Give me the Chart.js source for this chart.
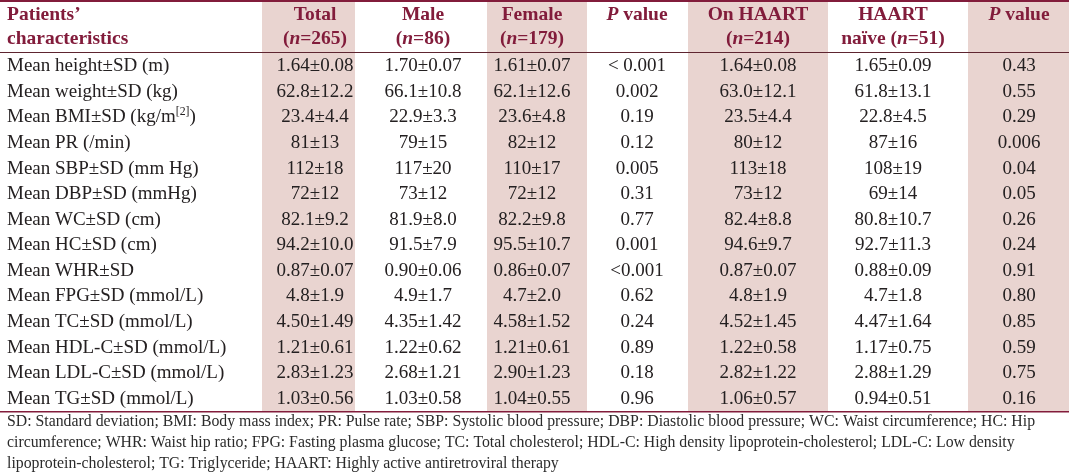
<!DOCTYPE html>
<html>
<head>
<meta charset="utf-8">
<script src="https://cdn.jsdelivr.net/npm/chart.js@4.4.1/dist/chart.umd.min.js"></script>
<style>
  html, body { margin: 0; padding: 0; background: #fff; }
  #wrap { width: 1069px; height: 475px; }
</style>
</head>
<body>
<div id="wrap"><canvas id="table1"></canvas></div>
<script>
// row labels (^...^ = superscript)
const rowLabels = [
    'Mean height±SD (m)', 'Mean weight±SD (kg)', 'Mean BMI±SD (kg/m^[2]^)', 'Mean PR (/min)',
    'Mean SBP±SD (mm Hg)', 'Mean DBP±SD (mmHg)', 'Mean WC±SD (cm)', 'Mean HC±SD (cm)',
    'Mean WHR±SD', 'Mean FPG±SD (mmol/L)', 'Mean TC±SD (mmol/L)', 'Mean HDL-C±SD (mmol/L)',
    'Mean LDL-C±SD (mmol/L)', 'Mean TG±SD (mmol/L)'
];
const total = ['1.64±0.08', '62.8±12.2', '23.4±4.4', '81±13', '112±18', '72±12', '82.1±9.2',
    '94.2±10.0', '0.87±0.07', '4.8±1.9', '4.50±1.49', '1.21±0.61', '2.83±1.23', '1.03±0.56'];
const male = ['1.70±0.07', '66.1±10.8', '22.9±3.3', '79±15', '117±20', '73±12', '81.9±8.0',
    '91.5±7.9', '0.90±0.06', '4.9±1.7', '4.35±1.42', '1.22±0.62', '2.68±1.21', '1.03±0.58'];
const female = ['1.61±0.07', '62.1±12.6', '23.6±4.8', '82±12', '110±17', '72±12', '82.2±9.8',
    '95.5±10.7', '0.86±0.07', '4.7±2.0', '4.58±1.52', '1.21±0.61', '2.90±1.23', '1.04±0.55'];
const pSex = ['< 0.001', '0.002', '0.19', '0.12', '0.005', '0.31', '0.77',
    '0.001', '<0.001', '0.62', '0.24', '0.89', '0.18', '0.96'];
const onHaart = ['1.64±0.08', '63.0±12.1', '23.5±4.4', '80±12', '113±18', '73±12', '82.4±8.8',
    '94.6±9.7', '0.87±0.07', '4.8±1.9', '4.52±1.45', '1.22±0.58', '2.82±1.22', '1.06±0.57'];
const naive = ['1.65±0.09', '61.8±13.1', '22.8±4.5', '87±16', '108±19', '69±14', '80.8±10.7',
    '92.7±11.3', '0.88±0.09', '4.7±1.8', '4.47±1.64', '1.17±0.75', '2.88±1.29', '0.94±0.51'];
const pHaart = ['0.43', '0.55', '0.29', '0.006', '0.04', '0.05', '0.26',
    '0.24', '0.91', '0.80', '0.85', '0.59', '0.75', '0.16'];

// column headers (*...* = italic)
const headCorner = ['Patients’', 'characteristics'];
const headLine1 = ['Total', 'Male', 'Female', '*P* value', 'On HAART', 'HAART', '*P* value'];
const headLine2 = ['(*n*=265)', '(*n*=86)', '(*n*=179)', '', '(*n*=214)', 'naïve (*n*=51)', ''];

const footnote = [
    'SD: Standard deviation; BMI: Body mass index; PR: Pulse rate; SBP: Systolic blood pressure; DBP: Diastolic blood pressure; WC: Waist circumference; HC: Hip',
    'circumference; WHR: Waist hip ratio; FPG: Fasting plasma glucose; TC: Total cholesterol; HDL-C: High density lipoprotein-cholesterol; LDL-C: Low density',
    'lipoprotein-cholesterol; TG: Triglyceride; HAART: Highly active antiretroviral therapy'
];

const valueCols = [total, male, female, pSex, onHaart, naive, pHaart];

// layout
const colEdges = [262, 355, 487, 587, 688, 828, 968, 1069];
const colCenters = [315, 423, 532, 637, 758, 893, 1019];
const shadedCols = [0, 2, 4, 6];
const labelWidth = 255;
const serif = '"Liberation Serif", "Times New Roman", serif';
const shade = '#e9d4d0';
const maroon = '#821c3b';
const ink = '#242021';

function parseRich(text) {
    let segs = [];
    let italic = false, sup = false, cur = '';
    for (const ch of text) {
        if (ch === '*' || ch === '^') {
            if (cur) segs.push({t: cur, italic: italic, sup: sup});
            cur = '';
            if (ch === '*') italic = !italic; else sup = !sup;
        } else {
            cur += ch;
        }
    }
    if (cur) segs.push({t: cur, italic: italic, sup: sup});
    return segs;
}

function drawRich(ctx, text, x, y, align, size, bold) {
    let segs = parseRich(text);
    let fontFor = s => (s.italic ? 'italic ' : '') + (bold ? 'bold ' : '') + (s.sup ? size * 0.62 : size) + 'px ' + serif;
    let w = 0;
    segs.forEach(s => { ctx.font = fontFor(s); s.w = ctx.measureText(s.t).width; w += s.w; });
    let cx = align === 'center' ? x - w / 2 : x;
    ctx.textAlign = 'left';
    ctx.textBaseline = 'middle';
    segs.forEach(s => {
        ctx.font = fontFor(s);
        ctx.fillText(s.t, cx, s.sup ? y - size * 0.3 : y);
        cx += s.w;
    });
}

const tablePlugin = {
    id: 'tableCells',
    beforeDraw(chart) {
        const {ctx, chartArea, scales: {x}} = chart;
        ctx.save();
        ctx.fillStyle = '#fff';
        ctx.fillRect(0, 0, chart.width, chart.height);
        ctx.fillStyle = shade;
        shadedCols.forEach(c => {
            let l = x.getPixelForValue(colEdges[c]);
            let r = x.getPixelForValue(colEdges[c + 1]);
            ctx.fillRect(l, 2, r - l, chartArea.bottom - 2);
        });
        ctx.fillStyle = maroon;
        ctx.fillRect(0, 0, chart.width, 2);
        ctx.fillStyle = '#5e2530';
        ctx.fillRect(0, chartArea.top - 1, chart.width, 1);
        ctx.fillStyle = maroon;
        ctx.fillRect(0, chartArea.bottom, chart.width, 1.5);
        ctx.restore();
    },
    afterDatasetsDraw(chart) {
        const {ctx, chartArea, scales: {y}} = chart;
        ctx.save();
        // header
        ctx.fillStyle = maroon;
        let h1 = chartArea.top - 38, h2 = chartArea.top - 14;
        drawRich(ctx, headCorner[0], chartArea.left - labelWidth, h1, 'left', 19.5, true);
        drawRich(ctx, headCorner[1], chartArea.left - labelWidth, h2, 'left', 19.5, true);
        chart.data.datasets.forEach((ds, c) => {
            let meta = chart.getDatasetMeta(c);
            let cx = meta.data[0].x;
            drawRich(ctx, headLine1[c], cx, h1, 'center', 19.5, true);
            if (headLine2[c]) drawRich(ctx, headLine2[c], cx, h2, 'center', 19.5, true);
        });
        // row labels
        ctx.fillStyle = ink;
        rowLabels.forEach((lab, i) => {
            drawRich(ctx, lab, chartArea.left - labelWidth, y.getPixelForValue(i) + 0.5, 'left', 19, false);
        });
        // cell values at the point positions
        chart.data.datasets.forEach((ds, c) => {
            chart.getDatasetMeta(c).data.forEach((pt, i) => {
                drawRich(ctx, ds.texts[i], pt.x, pt.y + 0.5, 'center', 19, false);
            });
        });
        ctx.restore();
    }
};

let ctx = document.getElementById('table1').getContext('2d');

let data = {
    labels: rowLabels,
    datasets: valueCols.map((vals, c) => ({
        label: headLine1[c],
        data: vals.map((v, i) => ({x: colCenters[c], y: rowLabels[i]})),
        texts: vals,
        pointRadius: 0,
        showLine: false
    }))
};

let options = {
    responsive: true,
    maintainAspectRatio: false,
    animation: false,
    layout: {padding: {left: 7, top: 53, right: 0, bottom: 0}},
    plugins: {
        legend: {display: false},
        tooltip: {enabled: false},
        subtitle: {
            display: true,
            position: 'bottom',
            align: 'start',
            text: footnote,
            color: '#2b2b2b',
            font: {family: serif, size: 15.8, lineHeight: 21 / 15.8},
            padding: {top: 0, bottom: 1}
        }
    },
    scales: {
        x: {type: 'linear', display: false, min: colEdges[0], max: colEdges[colEdges.length - 1]},
        y: {
            type: 'category',
            labels: rowLabels,
            offset: true,
            grid: {display: false},
            border: {display: false},
            ticks: {display: false},
            afterFit: function (scale) { scale.width = labelWidth; }
        }
    }
};

let config = {
    type: 'scatter',
    data: data,
    options: options,
    plugins: [tablePlugin]
};

let table1 = new Chart(ctx, config);
</script>
</body>
</html>
